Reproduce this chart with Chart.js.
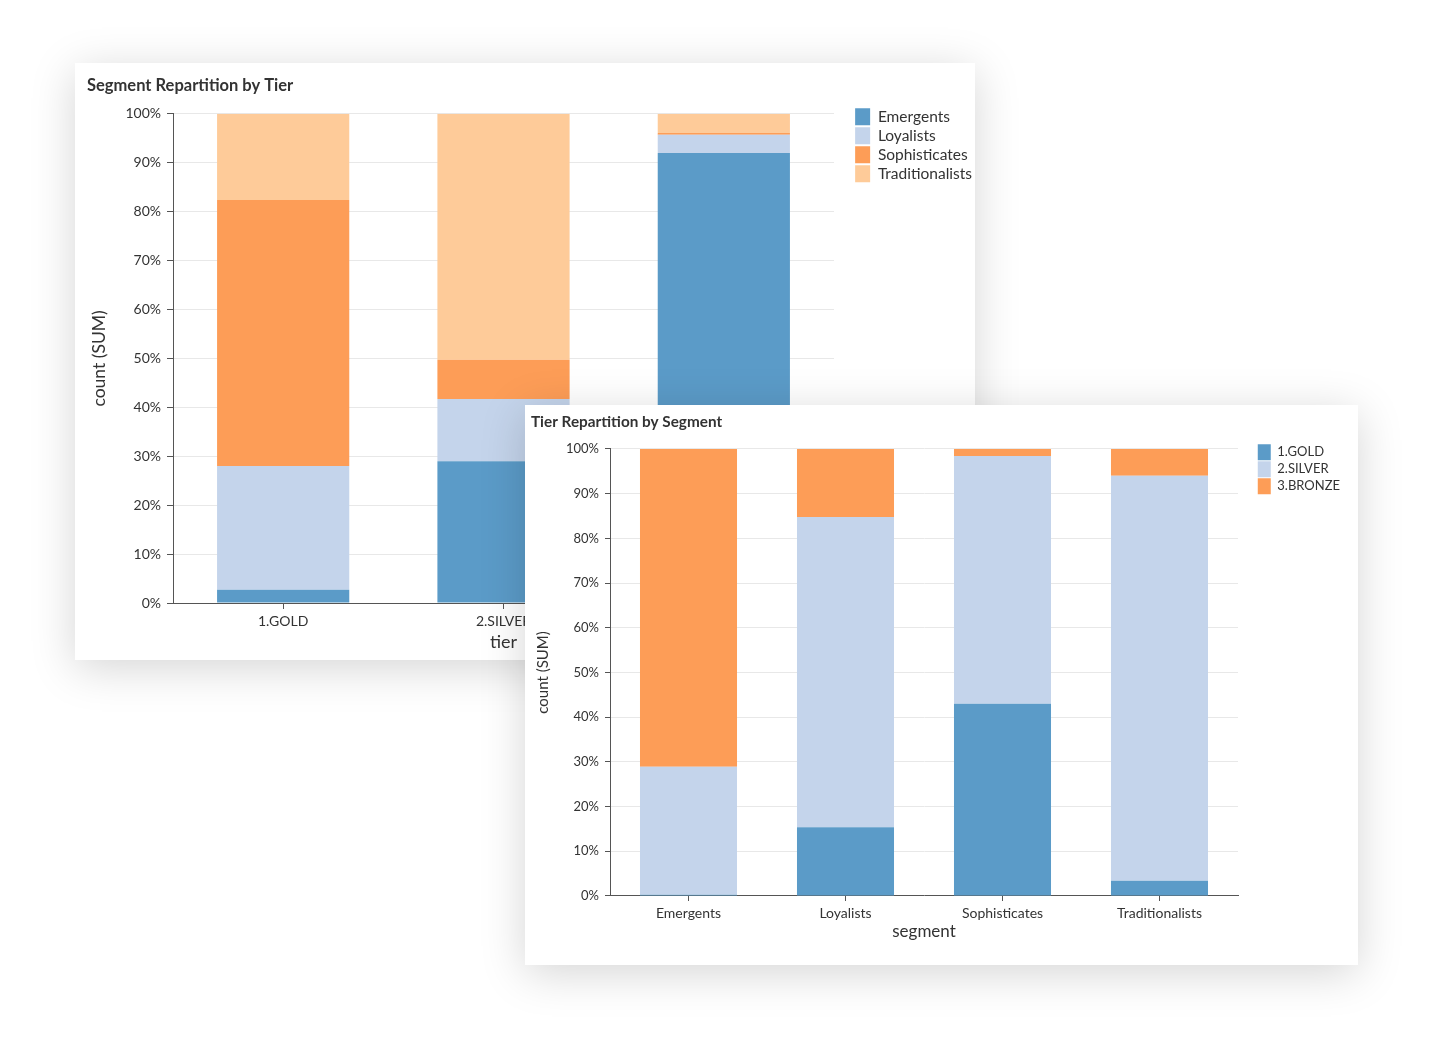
<!DOCTYPE html>
<html>
<head>
<meta charset="utf-8">
<script src="https://cdn.jsdelivr.net/npm/chart.js@4.4.1/dist/chart.umd.min.js"></script>
<style>
body{margin:0;background:#fff;width:1434px;height:1053px;position:relative;overflow:hidden;font-family:Lato}
.card{position:absolute;background:#fff;box-shadow:0 8px 42px rgba(0,0,0,0.17)}
#card1{left:75px;top:63px;width:900px;height:597px}
#card2{left:525px;top:405px;width:833px;height:560px}
canvas{display:block}
</style>
</head>
<body>
<div class="card" id="card1"><canvas id="tierChart" width="900" height="597"></canvas></div>
<div class="card" id="card2"><canvas id="segChart" width="833" height="560"></canvas></div>
<script>
const tiers = ["1.GOLD", "2.SILVER", "3.BRONZE"];
const segments = ["Emergents", "Loyalists", "Sophisticates", "Traditionalists"];

// segment share inside each tier (%)
const emergentsPct = [2.7, 29.0, 92.0];
const loyalistsPct = [25.3, 12.7, 3.7];
const sophisticatesPct = [54.4, 8.0, 0.4];
const traditionalistsPct = [17.6, 50.3, 3.9];

// tier share inside each segment (%)
const goldPct = [0.3, 15.4, 43.0, 3.4];
const silverPct = [28.6, 69.4, 55.4, 90.6];
const bronzePct = [71.1, 15.2, 1.6, 6.0];

const blue = "#5b9bc8", lightBlue = "#c4d4eb", orange = "#fd9d57", lightOrange = "#fecb99";

Chart.defaults.font.family = "Lato";
Chart.defaults.color = "#333";

function buildChart(id, labels, series, o){
    const canvas = document.getElementById(id);
    const W = canvas.width;
    return new Chart(canvas, {
        type: 'bar',
        data: {
            labels: labels,
            datasets: series.map(s => ({
                label: s.label, data: s.data, backgroundColor: s.color,
                borderWidth: 0, barPercentage: o.barPct, categoryPercentage: 1,
                xAxisID: 'x', yAxisID: 'y'
            }))
        },
        options: {
            responsive: false,
            animation: false,
            devicePixelRatio: 1,
            layout: {padding: {top: o.padTop, left: o.padLeft, right: o.padRight, bottom: 0}},
            plugins: {
                title: {display: true, text: o.title, align: 'start', color: '#333',
                    font: {size: o.titleSize, weight: 'bold'},
                    padding: {top: o.titleTop, bottom: o.titleBottom}},
                legend: {position: 'right', align: 'start',
                    title: {display: true, text: '', font: {size: 1}, padding: {top: o.legendTop, bottom: 0}},
                    labels: {boxWidth: o.boxW, boxHeight: o.boxH, padding: o.legendPad, color: '#333', font: {size: o.legendSize}}},
                tooltip: {enabled: false}
            },
            scales: {
                x: {
                    stacked: true,
                    grid: {display: true, drawOnChartArea: false, drawTicks: true, tickLength: o.tickLen, tickColor: '#555', offset: false},
                    border: {color: '#555'},
                    ticks: {color: '#333', font: {size: o.xTickSize}, padding: o.xTickPad, maxRotation: 0},
                    title: {display: true, text: o.xTitle, color: '#333', font: {size: o.xTitleSize}, padding: {top: 0, bottom: o.xTitlePad}},
                    afterFit(s){ s.height = o.xHeight; }
                },
                y: {
                    stacked: true, min: 0, max: 100,
                    ticks: {stepSize: 10, callback: v => v + '%', color: '#333', font: {size: o.tickSize}, padding: o.yTickPad},
                    grid: {color: '#e8e8e8', tickColor: '#555', tickLength: o.tickLen},
                    border: {color: '#555'},
                    title: {display: true, text: 'count (SUM)', color: '#333', font: {size: o.yTitleSize}, padding: {top: o.yTitlePad, bottom: 0}},
                    afterFit(s){ s.width = o.yWidth; }
                },
                gap: {
                    type: 'linear', position: 'right', display: true,
                    grid: {display: false}, ticks: {display: false}, border: {display: false},
                    afterFit(s){
                        const lg = s.chart.legend;
                        s.width = Math.max(0, W - o.padRight - (lg ? lg.width : 0) - o.plotRight);
                    }
                }
            }
        }
    });
}

buildChart("tierChart", tiers, [
    {label: segments[0], data: emergentsPct, color: blue},
    {label: segments[1], data: loyalistsPct, color: lightBlue},
    {label: segments[2], data: sophisticatesPct, color: orange},
    {label: segments[3], data: traditionalistsPct, color: lightOrange}
], {
    title: "Segment Repartition by Tier", titleSize: 16.5, titleTop: 8.5, titleBottom: 18.5,
    padTop: 4, padLeft: 12, padRight: -7, plotRight: 759,
    legendTop: 38, boxW: 15, boxH: 17, legendPad: 2, legendSize: 15.5,
    tickLen: 6, tickSize: 14, xTickSize: 14, xTickPad: 4, yTickPad: 6,
    xTitle: "tier", xTitleSize: 18, xTitlePad: 7, xHeight: 57,
    yTitleSize: 17.5, yTitlePad: 2, yWidth: 86, barPct: 0.6
});

buildChart("segChart", segments, [
    {label: tiers[0], data: goldPct, color: blue},
    {label: tiers[1], data: silverPct, color: lightBlue},
    {label: tiers[2], data: bronzePct, color: orange}
], {
    title: "Tier Repartition by Segment", titleSize: 15.3, titleTop: 4, titleBottom: 17.6,
    padTop: 4, padLeft: 6, padRight: 8, plotRight: 713,
    legendTop: 33, boxW: 13, boxH: 16, legendPad: 1, legendSize: 13,
    tickLen: 5, tickSize: 13, xTickSize: 14, xTickPad: 4, yTickPad: 6,
    xTitle: "segment", xTitleSize: 17, xTitlePad: 23, xHeight: 69,
    yTitleSize: 15, yTitlePad: 3, yWidth: 79, barPct: 0.618
});
</script>
</body>
</html>
